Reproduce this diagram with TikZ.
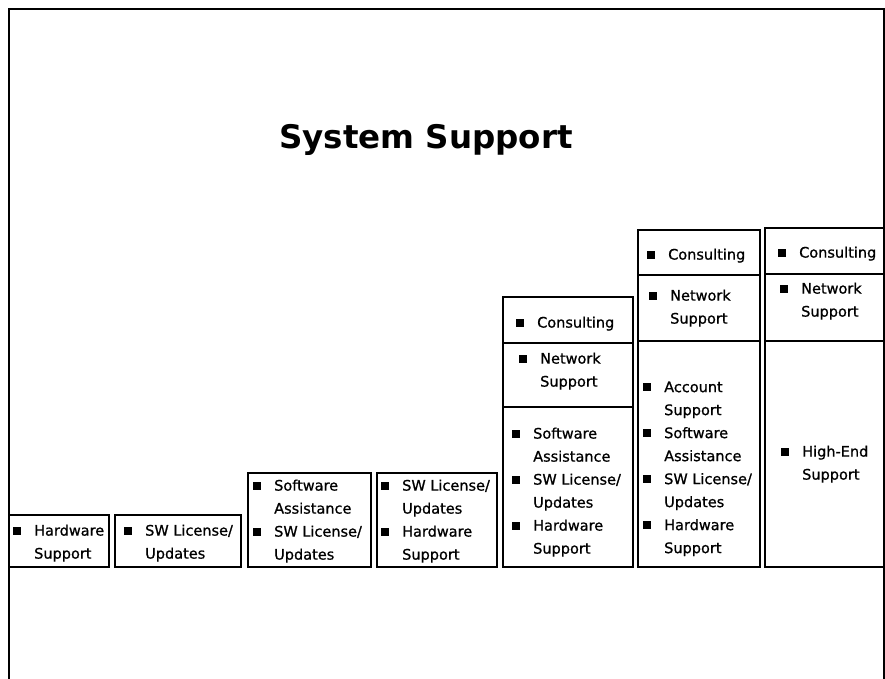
\documentclass[tikz,border=0pt]{standalone}
\usepackage{fontspec}
\setmainfont{DejaVu Sans}
\newfontfamily\medfont{DejaVu Sans}[FakeBold=0.9]
\usetikzlibrary{positioning}
\newcommand{\bul}{\makebox[21pt][l]{\rule[1pt]{8pt}{8pt}}}
\tikzset{
  box/.style={line width=1.6pt},
  lbl/.style={anchor=west, inner sep=0pt, font=\medfont\fontsize{14.5}{23}\selectfont},
}
\begin{document}
\begin{tikzpicture}[x=1pt,y=-1pt]
  \useasboundingbox (0,0) rectangle (885,679);
  % frame
  \draw[box] (9,679) -- (9,9) -- (884,9) -- (884,679);
  \node[font=\bfseries\fontsize{32.5}{38}\selectfont] (title) at (426,140) {System Support};
  % boxes
  \draw[box] (9,515) rectangle (109,567);
  \draw[box] (115,515) rectangle (241,567);
  \draw[box,line width=2.2pt] (248,473) rectangle (371,567);
  \draw[box] (377,473) rectangle (497,567);
  \draw[box] (503,297) rectangle (633,567);
  \draw[box] (503,343) -- (633,343) (503,407) -- (633,407);
  \draw[box] (638,230) rectangle (760,567);
  \draw[box] (638,275) -- (760,275) (638,341) -- (760,341);
  \draw[box] (765,228) rectangle (884,567);
  \draw[box] (765,274) -- (884,274) (765,341) -- (884,341);
  % texts
  \node[lbl] (hw) at (13,542.5) {\begin{tabular}{@{}l@{}l@{}}\bul&Hardware\\&Support\end{tabular}};
  \node[lbl] (sw) at (124,542.5) {\begin{tabular}{@{}l@{}l@{}}\bul&SW License/\\&Updates\end{tabular}};
  \node[lbl] (sa) at (253,520.5) {\begin{tabular}{@{}l@{}l@{}}\bul&Software\\&Assistance\\\bul&SW License/\\&Updates\end{tabular}};
  \node[lbl] (swhw) at (381,520.5) {\begin{tabular}{@{}l@{}l@{}}\bul&SW License/\\&Updates\\\bul&Hardware\\&Support\end{tabular}};
  \node[lbl] (c5) at (516,323) {\begin{tabular}{@{}l@{}l@{}}\bul&Consulting\end{tabular}};
  \node[lbl] (n5) at (519,370.5) {\begin{tabular}{@{}l@{}l@{}}\bul&Network\\&Support\end{tabular}};
  \node[lbl] (l5) at (512,491.5) {\begin{tabular}{@{}l@{}l@{}}\bul&Software\\&Assistance\\\bul&SW License/\\&Updates\\\bul&Hardware\\&Support\end{tabular}};
  \node[lbl] (c6) at (647,255) {\begin{tabular}{@{}l@{}l@{}}\bul&Consulting\end{tabular}};
  \node[lbl] (n6) at (649,307.5) {\begin{tabular}{@{}l@{}l@{}}\bul&Network\\&Support\end{tabular}};
  \node[lbl] (l6) at (643,468) {\begin{tabular}{@{}l@{}l@{}}\bul&Account\\&Support\\\bul&Software\\&Assistance\\\bul&SW License/\\&Updates\\\bul&Hardware\\&Support\end{tabular}};
  \node[lbl] (c7) at (778,253) {\begin{tabular}{@{}l@{}l@{}}\bul&Consulting\end{tabular}};
  \node[lbl] (n7) at (780,300.5) {\begin{tabular}{@{}l@{}l@{}}\bul&Network\\&Support\end{tabular}};
  \node[lbl] (he) at (781,463.5) {\begin{tabular}{@{}l@{}l@{}}\bul&High-End\\&Support\end{tabular}};
\end{tikzpicture}
\end{document}
